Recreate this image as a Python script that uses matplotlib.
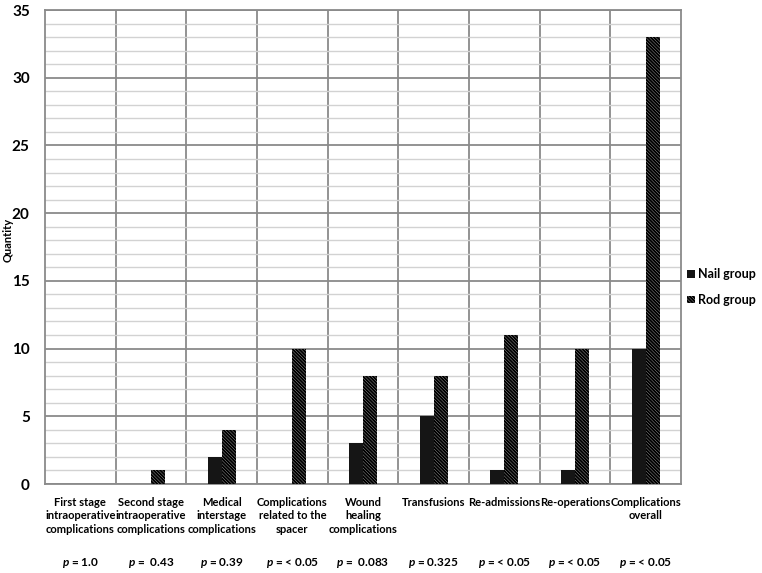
import matplotlib.pyplot as plt
import numpy as np

# podaci sa grafika
kategorije = ['First stage\nintraoperative\ncomplications',
              'Second stage\nintraoperative\ncomplications',
              'Medical\ninterstage\ncomplications',
              'Complications\nrelated to the\nspacer',
              'Wound\nhealing\ncomplications',
              'Transfusions',
              'Re-admissions',
              'Re-operations',
              'Complications\noverall']
nail_group = [0, 0, 2, 0, 3, 5, 1, 1, 10]
rod_group = [0, 1, 4, 10, 8, 8, 11, 10, 33]
p_vrijednosti = ['= 1.0', '=  0.43', '= 0.39', '= < 0.05', '=  0.083',
                 '= 0.325', '= < 0.05', '= < 0.05', '= < 0.05']

plt.rcParams['font.family'] = ['Lato', 'DejaVu Sans']
plt.rcParams['font.weight'] = 'bold'
plt.rcParams['mathtext.fontset'] = 'custom'
plt.rcParams['mathtext.it'] = 'Lato:italic:bold'
plt.rcParams['hatch.linewidth'] = 1.5

fig = plt.figure(figsize=(7.62, 5.73), dpi=100)
ax = fig.add_axes([45 / 762, 89 / 573, 636 / 762, 474 / 573])

x = np.arange(len(kategorije))
sirina = 0.2
ax.bar(x - sirina / 2, nail_group, sirina, color='#151515', linewidth=0, label='Nail group', zorder=3)
ax.bar(x + sirina / 2, rod_group, sirina, color='white', edgecolor='black', hatch='\\' * 10,
       linewidth=0, label='Rod group', zorder=3)

ax.set_xlim(-0.5, len(kategorije) - 0.5)
ax.set_ylim(0, 35)

# mreza
ax.set_yticks(np.arange(0, 36, 5))
ax.set_yticks(np.arange(0, 36, 1), minor=True)
ax.grid(axis='y', which='minor', color='#d2d2d2', linewidth=1.0, zorder=0)
ax.grid(axis='y', which='major', color='#8a8a8a', linewidth=1.3, zorder=1)
for granica in np.arange(0.5, len(kategorije) - 0.5, 1):
    ax.axvline(granica, color='#8a8a8a', linewidth=1.3, zorder=1)
for s in ax.spines.values():
    s.set_color('#8a8a8a')
    s.set_linewidth(1.3)

ax.set_xticks(x, kategorije, fontsize=8, fontweight='bold', linespacing=1.3)
ax.tick_params(axis='x', length=0, pad=9)
ax.tick_params(axis='y', which='both', length=0, pad=11, labelsize=11)
ax.set_ylabel('Quantity', fontsize=8, fontweight='bold')
ax.yaxis.set_label_coords(-31 / 636, 0.515)

# p vrijednosti ispod kategorija
for i, p in enumerate(p_vrijednosti):
    ax.text(i, -0.167, '$p$ ' + p, transform=ax.get_xaxis_transform(), ha='center', va='center',
            fontsize=8.5, fontweight='bold')

fig.legend(loc='center left', bbox_to_anchor=(687 / 762, 1 - 287 / 573), frameon=False,
           handlelength=0.6, handleheight=0.6, handletextpad=0.3, labelspacing=1.1,
           borderaxespad=0, borderpad=0, prop={'weight': 'bold', 'size': 9})

plt.savefig('out.png', dpi=100)
